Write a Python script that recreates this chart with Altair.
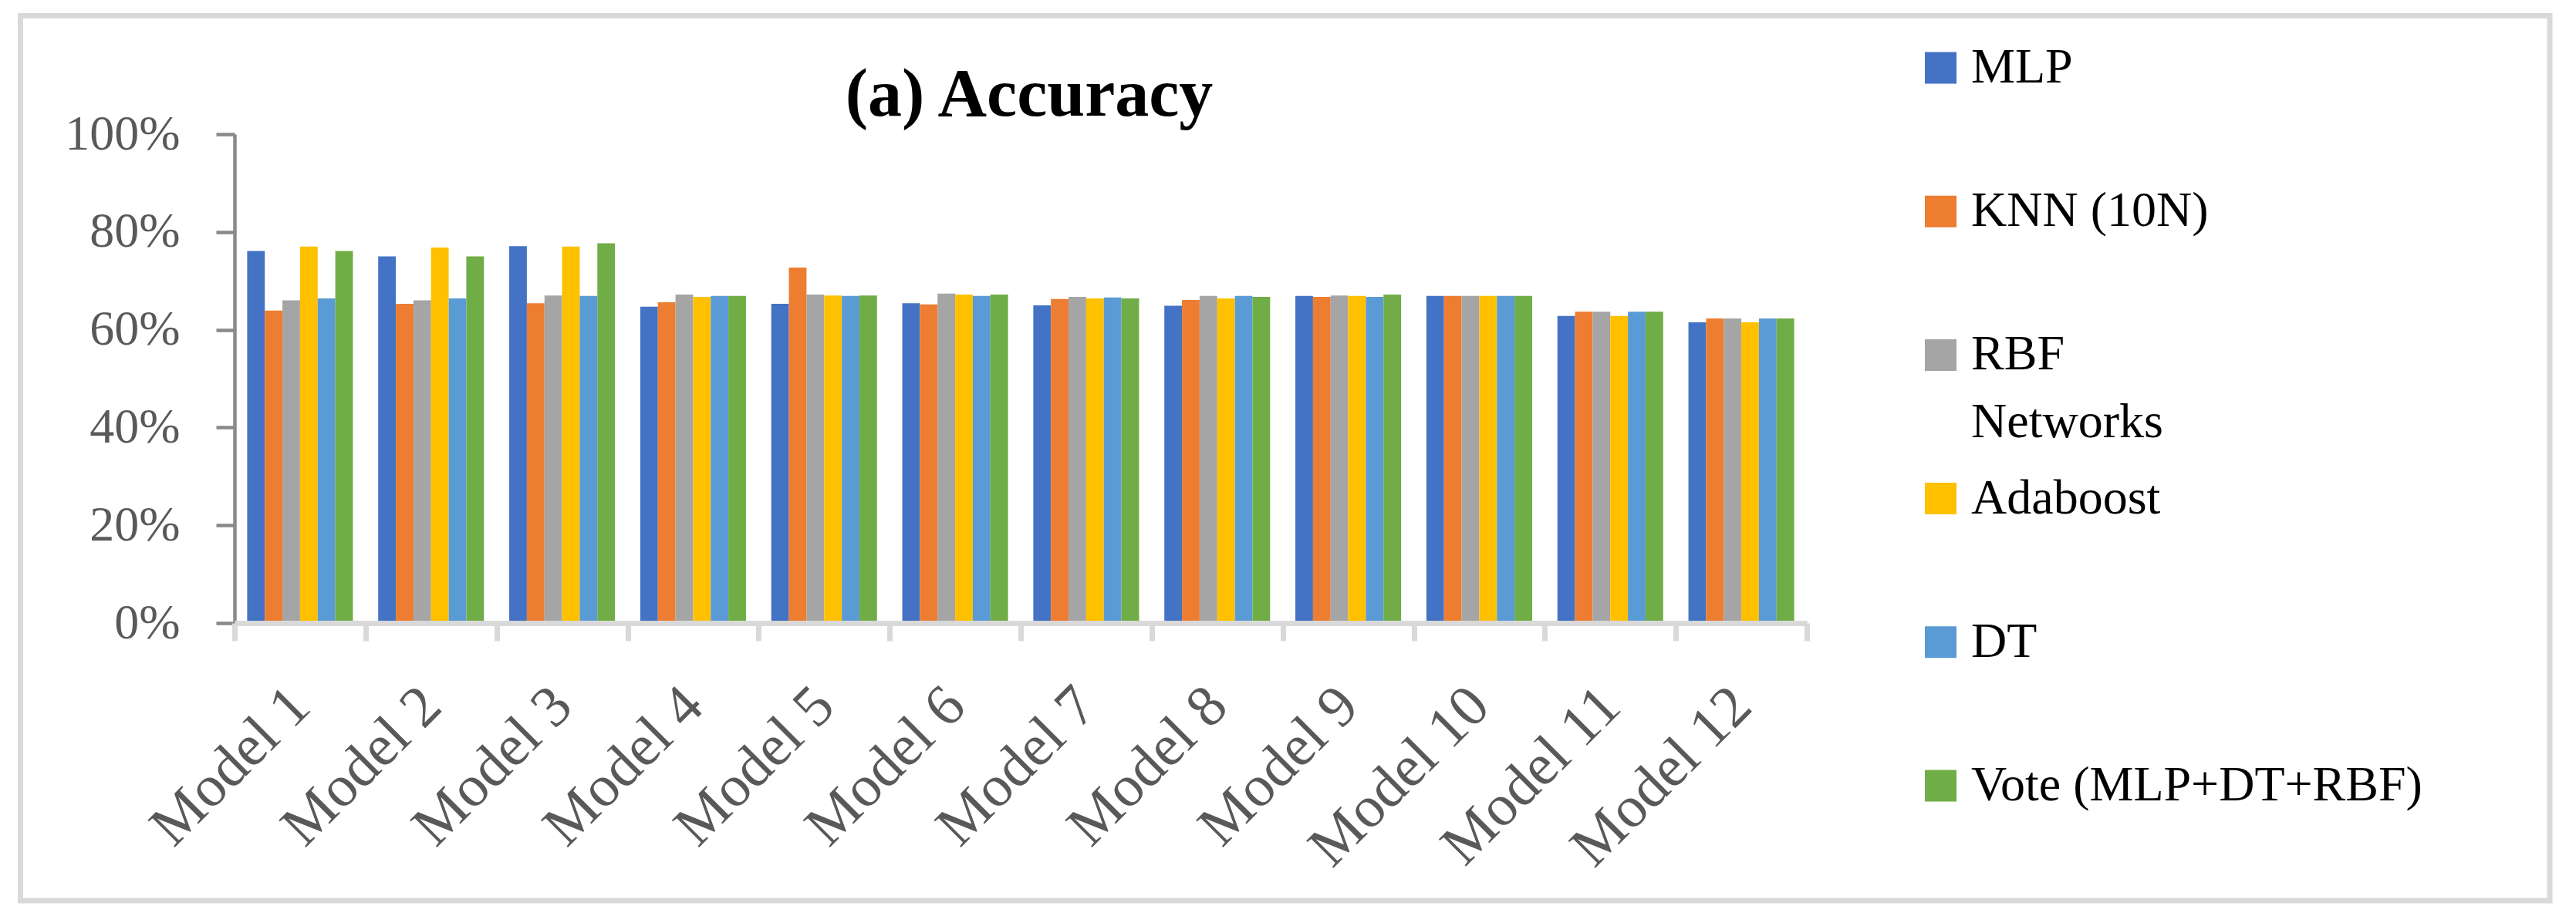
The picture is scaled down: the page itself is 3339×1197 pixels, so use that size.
import altair as alt
import pandas as pd

# ---------------- data ----------------
models = ["Model 1", "Model 2", "Model 3", "Model 4", "Model 5", "Model 6",
          "Model 7", "Model 8", "Model 9", "Model 10", "Model 11", "Model 12"]
series = ["MLP", "KNN (10N)", "RBF Networks", "Adaboost", "DT", "Vote (MLP+DT+RBF)"]
legend_line1 = ["MLP", "KNN (10N)", "RBF", "Adaboost", "DT", "Vote (MLP+DT+RBF)"]
legend_line2 = ["", "", "Networks", "", "", ""]
colors = ["#4472C4", "#ED7D31", "#A5A5A5", "#FFC000", "#5B9BD5", "#70AD47"]
title_text = "(a) Accuracy"
y_ticks = [0, 0.2, 0.4, 0.6, 0.8, 1.0]

mlp  = [0.761, 0.750, 0.771, 0.647, 0.653, 0.654, 0.650, 0.649, 0.669, 0.669, 0.628, 0.615]
knn  = [0.639, 0.653, 0.654, 0.656, 0.727, 0.652, 0.663, 0.661, 0.667, 0.669, 0.637, 0.623]
rbf  = [0.660, 0.660, 0.670, 0.672, 0.672, 0.674, 0.667, 0.669, 0.670, 0.669, 0.637, 0.623]
ada  = [0.770, 0.768, 0.770, 0.667, 0.670, 0.672, 0.664, 0.664, 0.669, 0.669, 0.628, 0.615]
dt   = [0.664, 0.664, 0.669, 0.669, 0.669, 0.669, 0.666, 0.669, 0.667, 0.669, 0.637, 0.623]
vote = [0.761, 0.750, 0.777, 0.669, 0.670, 0.672, 0.664, 0.667, 0.672, 0.669, 0.637, 0.623]

rows = []
for s, vals in zip(series, [mlp, knn, rbf, ada, dt, vote]):
    for m, v in zip(models, vals):
        rows.append({"model": m, "series": s, "value": v})
df = pd.DataFrame(rows)
leg_df = pd.DataFrame({"series": series, "line1": legend_line1, "line2": legend_line2})

FONT = "Liberation Serif"
W, H = 2038, 634

color_scale = alt.Scale(domain=series, range=colors)

bars = alt.Chart(df).mark_bar().encode(
    x=alt.X("model:N", sort=models,
            scale=alt.Scale(paddingInner=0, paddingOuter=0),
            axis=alt.Axis(title=None, labelAngle=-45, labelAlign="right",
                          labelBaseline="middle", labelFont=FONT, labelFontSize=76,
                          labelColor="#595959", labelPadding=72, labelLimit=0,
                          labelOverlap=False, labelFlush=False,
                          domainColor="#d9d9d9", domainWidth=7,
                          tickColor="#d9d9d9", tickWidth=7, tickSize=23,
                          tickBand="extent", zindex=1)),
    xOffset=alt.XOffset("series:N", sort=series,
                        scale=alt.Scale(paddingInner=0, paddingOuter=0.717)),
    y=alt.Y("value:Q", scale=alt.Scale(domain=[0, 1], nice=False),
            axis=alt.Axis(title=None, values=y_ticks, format=".0%", grid=False,
                          labelFont=FONT, labelFontSize=64, labelColor="#595959",
                          labelPadding=47, domainColor="#898989", domainWidth=4.5,
                          tickColor="#898989", tickWidth=4.5, tickSize=24)),
    color=alt.Color("series:N", sort=series, scale=color_scale, legend=None),
)

leg_scale = alt.Scale(type="point", domain=series, range=[-86, 845], padding=0)

leg_sq = alt.Chart(leg_df).mark_square(size=1681, opacity=1, strokeWidth=0).encode(
    x=alt.value(2211.5),
    y=alt.Y("series:N", sort=series, scale=leg_scale, axis=None),
    color=alt.Color("series:N", sort=series, scale=color_scale, legend=None),
)

leg_t1 = alt.Chart(leg_df).mark_text(align="left", baseline="middle", font=FONT,
                                     fontSize=64, color="black").encode(
    x=alt.value(2251),
    y=alt.Y("series:N", sort=series, scale=leg_scale, axis=None),
    text="line1:N",
)

leg_t2 = alt.Chart(leg_df).transform_filter("datum.line2 != ''").mark_text(
    align="left", baseline="middle", font=FONT, fontSize=64, color="black", dy=88).encode(
    x=alt.value(2251),
    y=alt.Y("series:N", sort=series, scale=leg_scale, axis=None),
    text="line2:N",
)

title = alt.Chart(pd.DataFrame({"t": [title_text]})).mark_text(
    align="center", baseline="alphabetic", font=FONT, fontSize=88,
    fontWeight="bold", color="black").encode(
    x=alt.value(1030), y=alt.value(-24), text="t:N")

border = alt.Chart(pd.DataFrame({"k": [0]})).mark_rect(
    fillOpacity=0, stroke="#d9d9d9", strokeWidth=7).encode(
    x=alt.value(-277.5), x2=alt.value(3001), y=alt.value(-153.5), y2=alt.value(994))

chart = alt.layer(border, bars, leg_sq, leg_t1, leg_t2, title).resolve_scale(
    y="independent"
).properties(
    width=W, height=H,
    padding={"left": 296, "top": 166, "right": 989, "bottom": 381},
    autosize=alt.AutoSizeParams(type="none"),
    background="white",
).configure_view(stroke=None)

chart.save("out.html", embed_options={"renderer": "svg", "actions": False})
